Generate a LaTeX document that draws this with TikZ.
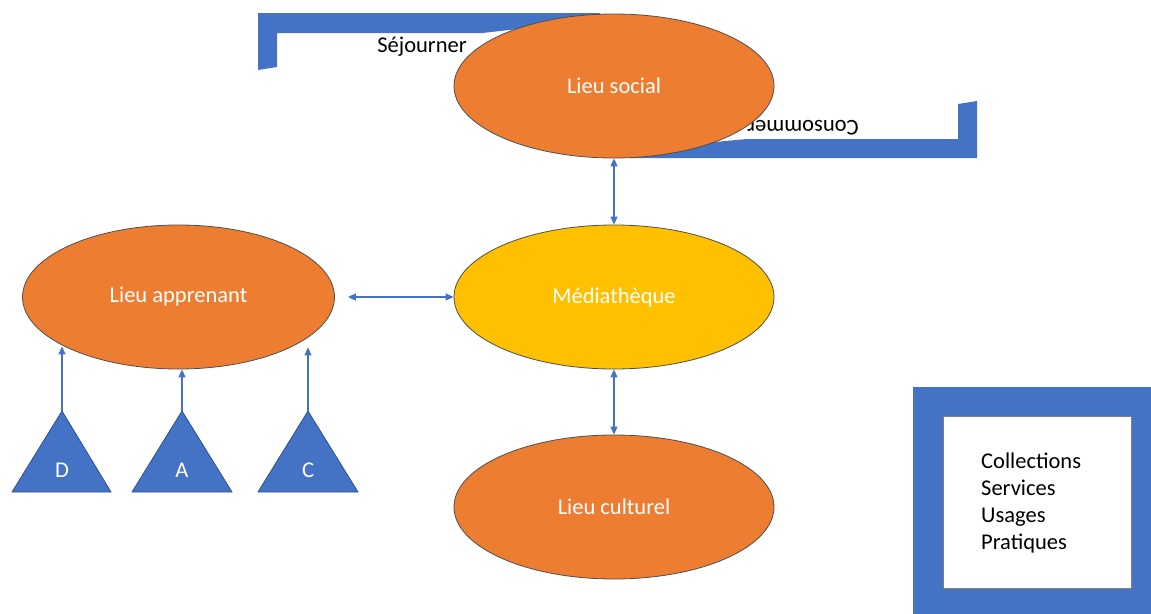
\documentclass[tikz,border=0pt]{standalone}
\usepackage{fontspec}
\setmainfont{Carlito}
\usetikzlibrary{shapes.geometric,arrows.meta}
\definecolor{orng}{HTML}{ED7D31}
\definecolor{yel}{HTML}{FFC000}
\definecolor{blu}{HTML}{4472C4}
\definecolor{edge}{HTML}{4F4F4F}
\tikzset{
  txt/.style={font=\fontsize{22.5}{27}\selectfont},
  oval/.style={ellipse, draw=edge, line width=0.8pt, inner sep=0pt, minimum width=320pt, minimum height=144pt, txt, text=white},
  tri/.style={fill=blu, draw=blu!70!black, line width=0.8pt},
  conn/.style={draw=blu, line width=1.2pt, -{Triangle[length=8pt,width=7pt]}},
  dconn/.style={draw=blu, line width=1.2pt, {Triangle[length=8pt,width=7pt]}-{Triangle[length=8pt,width=7pt]}},
}
\begin{document}
\begin{tikzpicture}[x=1pt,y=-1pt]
\useasboundingbox (0,0) rectangle (1151,613);
% bent arrow shapes (behind Lieu social)
\fill[blu] (258,70) -- (258,13) -- (600,13) -- (600,20) -- (482,33) -- (277,33) -- (277,67) -- cycle;
\node[txt, anchor=base] (sej) at (422,52) {Séjourner};
\fill[blu] (977,101) -- (977,158) -- (630,158) -- (630,150) -- (747,139) -- (958,139) -- (958,104) -- cycle;
\node[txt, rotate=180] (cons) at (803,128) {Consommer};
% ellipses
\node[oval, fill=orng] (soc) at (614,86) {Lieu social};
\node[oval, fill=yel] (med) at (614,297) {Médiathèque};
\node[oval, fill=orng, minimum width=312pt] (la) at (178.5,297) {Lieu apprenant};
\node[oval, fill=orng] (cul) at (614,507) {Lieu culturel};
% triangles
\draw[tri] (12,492) -- (62,411) -- (111,492) -- cycle;
\draw[tri] (132,492) -- (182,411) -- (232,492) -- cycle;
\draw[tri] (258,492) -- (308,411) -- (358,492) -- cycle;
\coordinate (tD) at (62,411);
\coordinate (tA) at (182,411);
\coordinate (tC) at (308,411);
\node[txt, text=white] (lD) at (62,470) {D};
\node[txt, text=white] (lA) at (182,470) {A};
\node[txt, text=white] (lC) at (308,470) {C};
% connectors
\draw[conn, shorten >=-23pt] (tD) -- (tD |- la.south);
\draw[conn] (tA) -- (tA |- la.south);
\draw[conn, shorten >=-22pt] (tC) -- (tC |- la.south);
\draw[dconn, shorten <=13pt] (la.east) -- (med.west);
\draw[dconn] (soc.south) -- (med.north);
\draw[dconn] (med.south) -- (cul.north);
% frame
\fill[blu] (913,387) rectangle (1160,620);
\draw[fill=white, draw=black!50, line width=0.6pt] (943,416) rectangle (1131,588);
\node[txt, anchor=north west, align=left, inner sep=0pt] (lst) at (981,453) {Collections\\Services\\Usages\\Pratiques};
\end{tikzpicture}
\end{document}
